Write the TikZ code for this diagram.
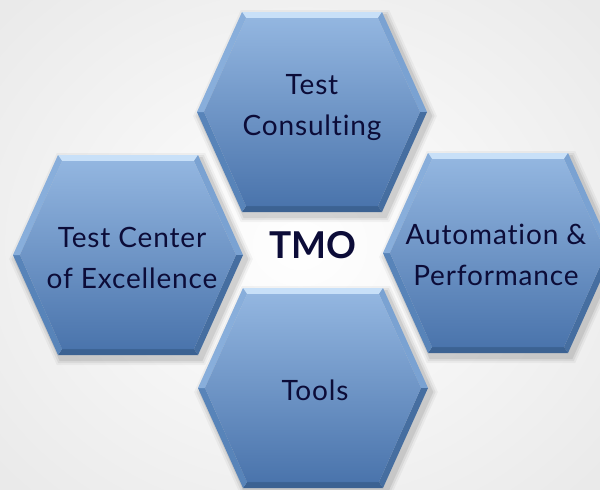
\documentclass[tikz,border=0pt]{standalone}
\usepackage{fontspec}
\setmainfont{Lato}[Ligatures=NoCommon,LetterSpace=3]
\newfontfamily\tmofont{Lato}[Ligatures=NoCommon]
\definecolor{txt}{RGB}{12,12,56}
\definecolor{hexTop}{RGB}{147,182,224}
\definecolor{hexBot}{RGB}{74,116,172}
\definecolor{bandTop}{RGB}{200,224,248}
\definecolor{bandUR}{RGB}{122,162,210}
\definecolor{bandLR}{RGB}{70,110,160}
\definecolor{bandB}{RGB}{60,98,146}
\definecolor{bandLL}{RGB}{88,132,185}
\definecolor{bandUL}{RGB}{136,174,219}
\tikzset{
  hexa/.pic={
    \foreach \k/\o in {1.06/0.04,1.04/0.06,1.02/0.08}{
      \fill[black,opacity=\o,xshift=3pt,yshift=-4pt,scale=\k]
        (-115,0) -- (-70,-100) -- (70,-100) -- (115,0) -- (70,100) -- (-70,100) -- cycle;
    }
    \fill[bandTop] (-70,-100) -- (70,-100) -- (66,-94) -- (-66,-94) -- cycle;
    \fill[bandUR] (70,-100) -- (115,0) -- (108,0) -- (66,-94) -- cycle;
    \fill[bandLR] (115,0) -- (70,100) -- (66,94) -- (108,0) -- cycle;
    \fill[bandB] (70,100) -- (-70,100) -- (-66,94) -- (66,94) -- cycle;
    \fill[bandLL] (-70,100) -- (-115,0) -- (-108,0) -- (-66,94) -- cycle;
    \fill[bandUL] (-115,0) -- (-70,-100) -- (-66,-94) -- (-108,0) -- cycle;
    \shade[top color=hexTop,bottom color=hexBot]
      (-108,0) -- (-66,-94) -- (66,-94) -- (108,0) -- (66,94) -- (-66,94) -- cycle;
  },
  label/.style={text=txt,align=center,font=\fontsize{28}{41}\selectfont},
}
\begin{document}
\begin{tikzpicture}[x=1pt,y=-1pt]
\useasboundingbox (0,0) rectangle (600,490);
\clip (0,0) rectangle (600,490);
\shade[inner color=white,outer color={rgb,255:red,234;green,234;blue,234}] (-100,-100) rectangle (700,590);
\pic at (312,112) {hexa};
\pic at (128,255) {hexa};
\pic at (498,253) {hexa};
\pic at (313,388) {hexa};
\node[label] (consult) at (312,108) {Test\\Consulting};
\node[label] (tcoe) at (132,258) {Test Center\\of Excellence};
\node[label] (auto) at (496,255) {Automation \&\\Performance};
\node[label] (tools) at (315,390) {Tools};
\node[text=txt,font=\tmofont\bfseries\fontsize{37}{40}\selectfont] (tmo) at (313,245) {TMO};
\end{tikzpicture}
\end{document}
